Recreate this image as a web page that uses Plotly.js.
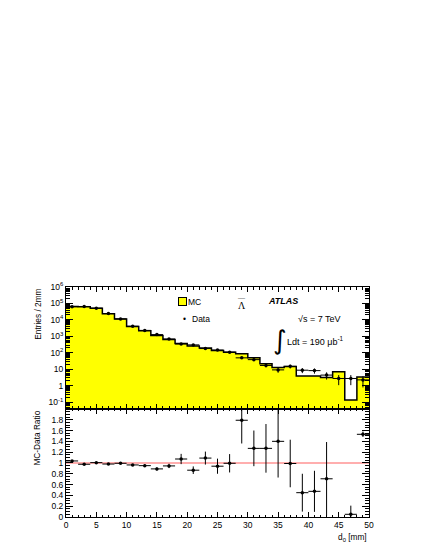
<!DOCTYPE html>
<html>
<head>
<meta charset="utf-8">
<script src="https://cdn.plot.ly/plotly-3.0.1.min.js"></script>
<style>
  body { margin: 0; background: #fff; }
  #plot { width: 424px; height: 548px; }
</style>
</head>
<body>
<div id="plot"></div>
<script>
// bin centres of d0 (2 mm bins, 0 - 50 mm)
var binCenters = [1, 3, 5, 7, 9, 11, 13, 15, 17, 19, 21, 23, 25, 27, 29, 31, 33, 35, 37, 39, 41, 43, 45, 47, 49];
var binWidth = 2;

// MC histogram (entries / 2mm)
var mcEntries = [66000, 64000, 52000, 24000, 11500, 4000, 2200, 1150, 660, 370, 265, 200, 140, 110, 90, 50, 22, 13, 15, 4.0, 4.0, 3.2, 7.1, 0.14, 3.5];

// data points and errors
var dataEntries = [63600, 65600, 51700, 24500, 11600, 4150, 2320, 1290, 700, 345, 306, 183, 149, 111, 50, 39, 17.3, 9.3, 15.2, 8.9, 8.4, 4.5, 2.8, 2.8, 2.3];
var dataErrors = [250, 260, 230, 160, 110, 65, 48, 36, 26, 19, 17, 14, 12, 11, 7, 6.3, 4.2, 3.1, 3.9, 3, 2.9, 2.1, 1.7, 1.7, 1.5];

// MC/Data ratio
var ratioValues = [1.037, 0.976, 1.006, 0.98, 0.994, 0.963, 0.95, 0.89, 0.945, 1.073, 0.866, 1.09, 0.94, 0.994, 1.79, 1.27, 1.27, 1.40, 0.99, 0.45, 0.475, 0.707, null, 0.05, 1.53];
var ratioErrors = [0.01, 0.008, 0.008, 0.01, 0.012, 0.018, 0.024, 0.03, 0.04, 0.095, 0.07, 0.12, 0.14, 0.17, 0.43, 0.33, 0.45, 0.67, 0.44, 0.35, 0.38, 0.68, 0, 0.16, 0.05];

var logTickVals = [0.1, 1, 10, 100, 1000, 10000, 100000, 1000000];
var logTickText = ['10<sup>-1</sup>', '1', '10', '10<sup>2</sup>', '10<sup>3</sup>', '10<sup>4</sup>', '10<sup>5</sup>', '10<sup>6</sup>'];
var ratioTickVals = [0, 0.2, 0.4, 0.6, 0.8, 1, 1.2, 1.4, 1.6, 1.8];
var ratioTickText = ['0', '0.2', '0.4', '0.6', '0.8', '1', '1.2', '1.4', '1.6', '1.8'];
var xTickVals = [0, 5, 10, 15, 20, 25, 30, 35, 40, 45, 50];

// step outline from bin edges
var binEdges = binCenters.map(function(c) { return c - binWidth / 2; });
binEdges.push(binCenters[binCenters.length - 1] + binWidth / 2);
var stepY = mcEntries.slice();
stepY.push(mcEntries[mcEntries.length - 1]);

var FONT = 'Liberation Sans, Arial, sans-serif';

var traces = [
    {
        x: binCenters, y: mcEntries, type: 'bar', width: binWidth,
        marker: {color: '#ffff00', line: {width: 0}},
        xaxis: 'x', yaxis: 'y', showlegend: false, hoverinfo: 'skip'
    },
    {
        x: binEdges, y: stepY, type: 'scatter', mode: 'lines',
        line: {shape: 'hv', color: 'black', width: 1.5},
        xaxis: 'x', yaxis: 'y', showlegend: false
    },
    {
        x: binCenters, y: dataEntries, type: 'scatter', mode: 'markers',
        marker: {color: 'black', size: 3.5},
        error_x: {type: 'constant', value: binWidth / 2, color: 'black', thickness: 1, width: 0},
        error_y: {type: 'data', array: dataErrors, color: 'black', thickness: 1, width: 0},
        xaxis: 'x', yaxis: 'y', showlegend: false
    },
    {
        x: [0, 50], y: [1, 1], type: 'scatter', mode: 'lines',
        line: {color: 'rgba(255,60,60,0.55)', width: 1.5},
        xaxis: 'x2', yaxis: 'y2', showlegend: false
    },
    {
        x: binCenters, y: ratioValues, type: 'scatter', mode: 'markers',
        marker: {color: 'black', size: 3.5},
        error_x: {type: 'constant', value: binWidth / 2, color: 'black', thickness: 1, width: 0},
        error_y: {type: 'data', array: ratioErrors, color: 'black', thickness: 1, width: 0},
        xaxis: 'x2', yaxis: 'y2', showlegend: false
    }
];

var axisBase = {
    showline: true, linecolor: 'black', linewidth: 1, mirror: 'ticks',
    ticks: 'inside', tickcolor: 'black', showgrid: false, zeroline: false,
    tickfont: {family: FONT, size: 8.5, color: 'black'}
};

var layout = {
    width: 424, height: 548,
    margin: {l: 66, r: 55, t: 287, b: 31},
    paper_bgcolor: 'white', plot_bgcolor: 'white',
    bargap: 0,
    font: {family: FONT, color: 'black'},
    xaxis: Object.assign({}, axisBase, {
        domain: [0, 1], anchor: 'y', range: [0, 50], showticklabels: false,
        tickvals: xTickVals, ticklen: 5,
        minor: {ticks: 'inside', dtick: 1, ticklen: 2.5, tickcolor: 'black', showgrid: false}
    }),
    yaxis: Object.assign({}, axisBase, {
        domain: [0.47, 1], anchor: 'x', type: 'log', range: [-1.4, 6],
        tickmode: 'array', tickvals: logTickVals, ticktext: logTickText, ticklen: 7,
        minor: {ticks: 'inside', dtick: 'D1', ticklen: 4, tickcolor: 'black', showgrid: false}
    }),
    xaxis2: Object.assign({}, axisBase, {
        domain: [0, 1], anchor: 'y2', range: [0, 50],
        tickvals: xTickVals, ticklen: 5,
        minor: {ticks: 'inside', dtick: 1, ticklen: 2.5, tickcolor: 'black', showgrid: false}
    }),
    yaxis2: Object.assign({}, axisBase, {
        domain: [0, 0.47], anchor: 'x2', range: [0, 2],
        tickmode: 'array', tickvals: ratioTickVals, ticktext: ratioTickText, ticklen: 7,
        minor: {ticks: 'inside', dtick: 0.05, ticklen: 4, tickcolor: 'black', showgrid: false}
    }),
    annotations: [
        {text: 'Entries / 2mm', xref: 'paper', yref: 'paper', x: -0.095, y: 1,
         xanchor: 'center', yanchor: 'top', textangle: -90, showarrow: false,
         font: {size: 8.3}},
        {text: 'MC-Data Ratio', xref: 'paper', yref: 'paper', x: -0.095, y: 0.47,
         xanchor: 'center', yanchor: 'top', textangle: -90, showarrow: false,
         font: {size: 8.3}},
        {text: 'd<sub>0</sub> [mm]', xref: 'paper', yref: 'paper', x: 1, y: -0.055,
         xanchor: 'right', yanchor: 'top', showarrow: false, font: {size: 8.3}},
        // legend
        {text: ' ', xref: 'paper', yref: 'paper', x: 0.37, y: 0.935, width: 7, height: 7,
         xanchor: 'left', yanchor: 'middle', showarrow: false, bgcolor: '#ffff00',
         bordercolor: 'black', borderwidth: 1, borderpad: 0, font: {size: 6}},
        {text: 'MC', xref: 'paper', yref: 'paper', x: 0.397, y: 0.935,
         xanchor: 'left', yanchor: 'middle', showarrow: false, font: {size: 8.5}},
        {text: '•', xref: 'paper', yref: 'paper', x: 0.379, y: 0.86,
         xanchor: 'left', yanchor: 'middle', showarrow: false, font: {size: 8.5}},
        {text: 'Data', xref: 'paper', yref: 'paper', x: 0.41, y: 0.86,
         xanchor: 'left', yanchor: 'middle', showarrow: false, font: {size: 8.5}},
        // particle label: Lambda with overline
        {text: 'Λ', xref: 'paper', yref: 'paper', x: 0.58, y: 0.918,
         xanchor: 'center', yanchor: 'middle', showarrow: false,
         font: {family: 'Liberation Serif, serif', size: 10}},
        {text: '—', xref: 'paper', yref: 'paper', x: 0.58, y: 0.952,
         xanchor: 'center', yanchor: 'middle', showarrow: false,
         font: {family: 'Liberation Serif, serif', size: 7}},
        {text: '<b><i>ATLAS</i></b>', xref: 'paper', yref: 'paper', x: 0.66, y: 0.94,
         xanchor: 'left', yanchor: 'middle', showarrow: false, font: {size: 9}},
        {text: '√s = 7 TeV', xref: 'paper', yref: 'paper', x: 0.76, y: 0.862,
         xanchor: 'left', yanchor: 'middle', showarrow: false, font: {size: 9}},
        {text: '∫', xref: 'paper', yref: 'paper', x: 0.675, y: 0.77,
         xanchor: 'left', yanchor: 'middle', showarrow: false,
         font: {family: 'DejaVu Sans, sans-serif', size: 26}},
        {text: 'Ldt = 190 μb<sup>-1</sup>', xref: 'paper', yref: 'paper', x: 0.724, y: 0.765,
         xanchor: 'left', yanchor: 'middle', showarrow: false, font: {size: 9}}
    ]
};

Plotly.newPlot('plot', traces, layout, {displayModeBar: false, staticPlot: true});
</script>
</body>
</html>
